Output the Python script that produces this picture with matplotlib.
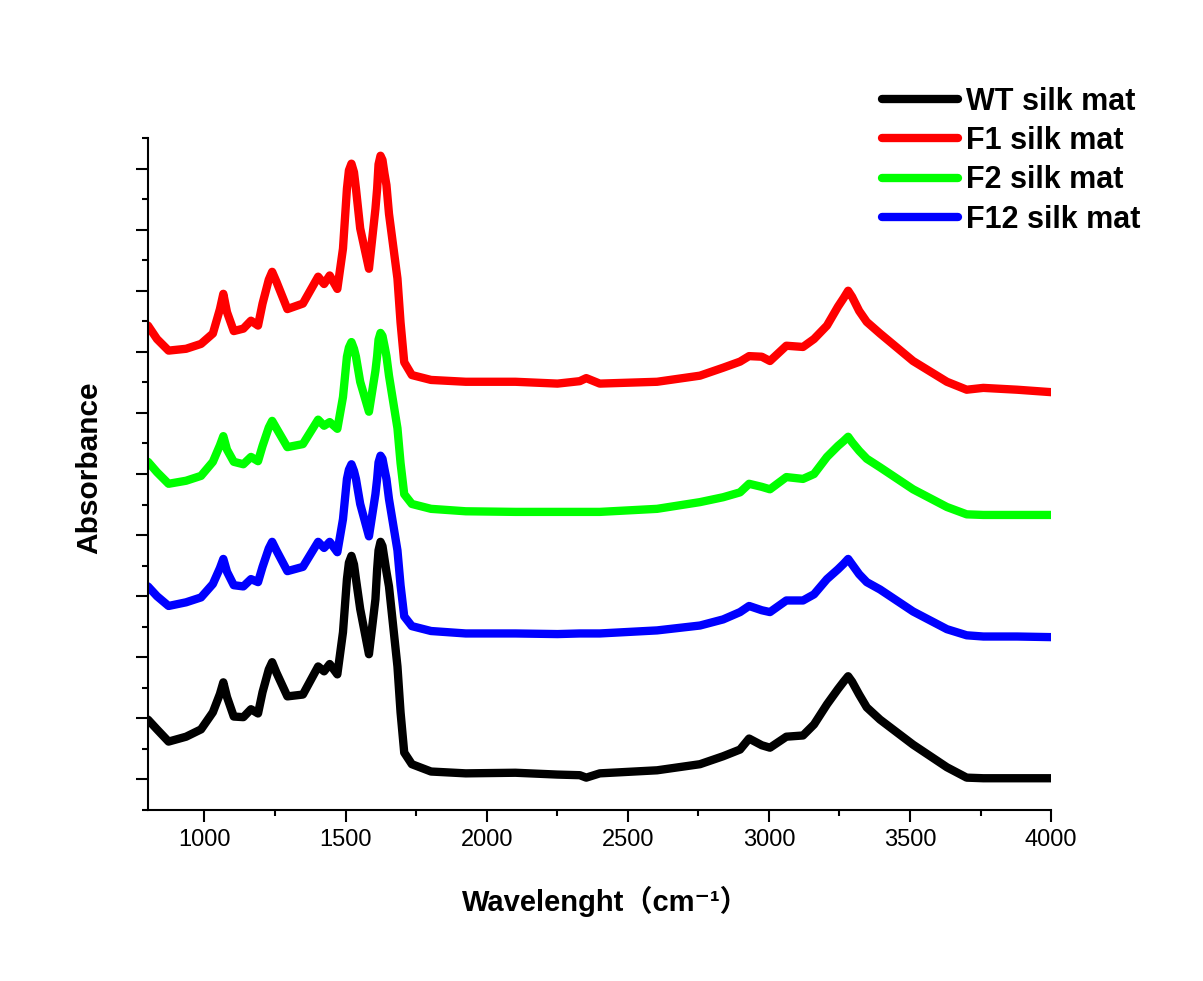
import numpy as np
import matplotlib
matplotlib.use("Agg")
import matplotlib.pyplot as plt
from matplotlib.ticker import MultipleLocator

plt.rcParams['font.family'] = ['Liberation Sans', 'Noto Sans CJK SC', 'DejaVu Sans']

# wavenumber grid (cm-1) and stacked absorbance spectra (a.u., offset for display)
wavenumber = [800, 832, 873, 935, 988, 1030, 1055, 1067, 1080, 1104, 1138, 1165,
              1190, 1206, 1228, 1240, 1255, 1294, 1349, 1403, 1424, 1444, 1471, 1491,
              1505, 1512, 1521, 1530, 1537, 1552, 1583, 1606, 1612, 1617, 1624, 1631,
              1638, 1645, 1654, 1684, 1695, 1708, 1735, 1803, 1926, 2102, 2251, 2330,
              2353, 2401, 2604, 2756, 2838, 2898, 2930, 2975, 3004, 3062, 3121, 3160,
              3206, 3245, 3265, 3281, 3295, 3320, 3347, 3394, 3511, 3631, 3701, 3760,
              3880, 4000]

wt = [0.098, 0.082, 0.062, 0.070, 0.082, 0.110, 0.140, 0.159, 0.135, 0.103, 0.102, 0.115,
      0.108, 0.143, 0.180, 0.192, 0.175, 0.136, 0.139, 0.185, 0.177, 0.189, 0.172, 0.241,
      0.328, 0.355, 0.366, 0.352, 0.328, 0.279, 0.205, 0.295, 0.344, 0.375, 0.389, 0.382,
      0.361, 0.340, 0.316, 0.185, 0.110, 0.044, 0.025, 0.013, 0.010, 0.011, 0.008, 0.007,
      0.003, 0.010, 0.015, 0.025, 0.038, 0.049, 0.067, 0.056, 0.052, 0.070, 0.072, 0.090,
      0.123, 0.148, 0.160, 0.169, 0.160, 0.139, 0.118, 0.098, 0.057, 0.020, 0.003, 0.002,
      0.002, 0.002]

f12 = [0.316, 0.300, 0.284, 0.290, 0.298, 0.320, 0.346, 0.361, 0.340, 0.318, 0.316, 0.328,
       0.323, 0.348, 0.378, 0.389, 0.375, 0.341, 0.348, 0.389, 0.379, 0.389, 0.372, 0.426,
       0.492, 0.507, 0.516, 0.505, 0.492, 0.451, 0.398, 0.467, 0.492, 0.519, 0.530, 0.525,
       0.508, 0.492, 0.459, 0.375, 0.318, 0.267, 0.251, 0.243, 0.239, 0.239, 0.238, 0.239,
       0.239, 0.239, 0.244, 0.252, 0.262, 0.274, 0.284, 0.277, 0.274, 0.293, 0.293, 0.303,
       0.328, 0.344, 0.353, 0.361, 0.352, 0.336, 0.323, 0.311, 0.275, 0.246, 0.236, 0.234,
       0.234, 0.233]

f2 = [0.520, 0.503, 0.484, 0.489, 0.497, 0.520, 0.547, 0.562, 0.540, 0.520, 0.516, 0.528,
      0.521, 0.546, 0.576, 0.587, 0.575, 0.544, 0.549, 0.589, 0.579, 0.585, 0.574, 0.626,
      0.692, 0.707, 0.716, 0.705, 0.692, 0.651, 0.602, 0.669, 0.693, 0.720, 0.731, 0.726,
      0.710, 0.693, 0.661, 0.575, 0.518, 0.467, 0.451, 0.443, 0.439, 0.438, 0.438, 0.438,
      0.438, 0.438, 0.443, 0.454, 0.462, 0.470, 0.484, 0.479, 0.475, 0.495, 0.492, 0.500,
      0.528, 0.546, 0.554, 0.561, 0.552, 0.538, 0.525, 0.511, 0.475, 0.446, 0.434, 0.433,
      0.433, 0.433]

f1 = [0.743, 0.721, 0.702, 0.705, 0.713, 0.730, 0.770, 0.795, 0.765, 0.734, 0.738, 0.751,
      0.743, 0.779, 0.818, 0.831, 0.815, 0.770, 0.779, 0.823, 0.811, 0.825, 0.803, 0.869,
      0.967, 0.997, 1.008, 0.994, 0.967, 0.902, 0.836, 0.934, 0.967, 1.007, 1.021, 1.014,
      0.992, 0.973, 0.926, 0.820, 0.748, 0.683, 0.662, 0.654, 0.651, 0.651, 0.648, 0.652,
      0.657, 0.648, 0.651, 0.661, 0.674, 0.684, 0.693, 0.692, 0.685, 0.710, 0.708, 0.721,
      0.743, 0.774, 0.788, 0.800, 0.790, 0.767, 0.749, 0.730, 0.685, 0.651, 0.638, 0.641,
      0.638, 0.634]

labels = ['WT silk mat', 'F1 silk mat', 'F2 silk mat', 'F12 silk mat']
colors = ['#000000', '#ff0000', '#00ff00', '#0000ff']

fig = plt.figure(figsize=(12.03, 9.81), dpi=100)
ax = fig.add_axes([0.123, 0.1743, 0.7507, 0.685])

for y, lab, c in zip([wt, f1, f2, f12], labels, colors):
    ax.plot(wavenumber, y, color=c, lw=6, label=lab,
            solid_joinstyle='round', solid_capstyle='round')

ax.set_xlim(800, 4000)
ax.set_ylim(-0.05, 1.05)
ax.xaxis.set_major_locator(MultipleLocator(500))
ax.xaxis.set_minor_locator(MultipleLocator(250))
ax.yaxis.set_major_locator(MultipleLocator(0.1))
ax.yaxis.set_minor_locator(MultipleLocator(0.05))
ax.tick_params(which='major', direction='out', length=8.5, width=1.5, labelsize=17, pad=5)
ax.tick_params(which='minor', direction='out', length=4.3, width=1.5)
ax.tick_params(axis='y', labelleft=False)

for s in ['top', 'right']:
    ax.spines[s].set_visible(False)
for s in ['left', 'bottom']:
    ax.spines[s].set_linewidth(1.5)

ax.set_xlabel('Wavelenght（cm⁻¹）', fontsize=21, fontweight='bold')
ax.xaxis.set_label_coords(0.507, -0.113)
ax.set_ylabel('Absorbance', fontsize=21.5, fontweight='bold')
ax.yaxis.set_label_coords(-0.05, 0.51)

leg = ax.legend(loc='upper left', bbox_to_anchor=(882 / 1203, 0.9116),
                bbox_transform=fig.transFigure, frameon=False,
                prop={'weight': 'bold', 'size': 22},
                handlelength=2.49, handletextpad=0.26, labelspacing=0.305,
                borderpad=0, borderaxespad=0)
for h in leg.get_lines():
    h.set_linewidth(6)
    h.set_solid_capstyle('round')

fig.savefig('out.png', dpi=100)
